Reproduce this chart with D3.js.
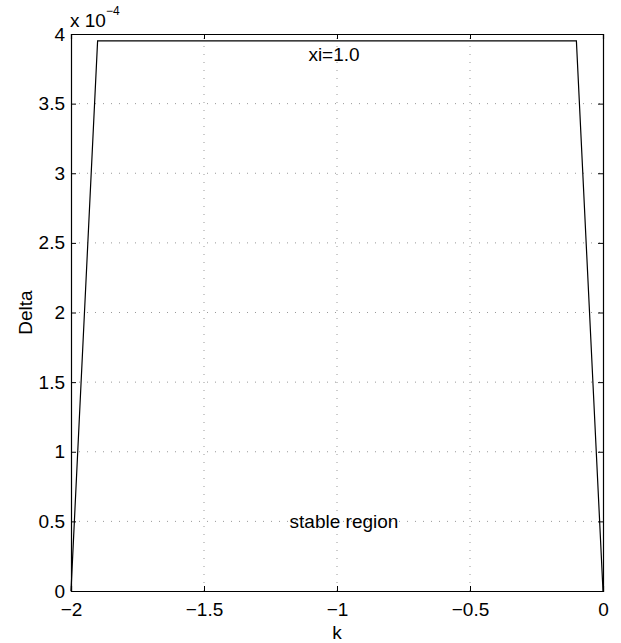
<!DOCTYPE html>
<html>
<head>
<meta charset="utf-8">
<script src="https://cdn.jsdelivr.net/npm/d3@7"></script>
<style>
  html, body { margin: 0; padding: 0; background: #fff; }
  svg { display: block; }
  text { font-family: "Liberation Sans", Arial, Helvetica, sans-serif; fill: #000; }
</style>
</head>
<body>
<svg id="chart" width="621" height="643"></svg>
<script>
// Stability boundary Delta(k) for xi = 1.0 (Delta values in units of 1e-4)
const kValues = [-2.0, -1.9, -0.1, 0.0];
const deltaValues = [0.0, 3.95, 3.95, 0.0];
const xTicks = [-2, -1.5, -1, -0.5, 0];
const yTicks = [0, 0.5, 1, 1.5, 2, 2.5, 3, 3.5, 4];

const svg = d3.select("#chart");
const margin = { left: 71, top: 34, right: 18, bottom: 52 };
const W = 621, H = 643;
const FS = 19;
const x = d3.scaleLinear().domain([-2, 0]).range([margin.left, W - margin.right]);
const y = d3.scaleLinear().domain([0, 4]).range([H - margin.bottom, margin.top]);

const fmt = v => (v < 0 ? "\u2212" : "") + String(Math.abs(v));

// dotted grid
const grid = svg.append("g");
grid.selectAll("line.vx").data(xTicks.slice(1, -1)).join("line")
  .attr("x1", d => x(d)).attr("x2", d => x(d))
  .attr("y1", y(0)).attr("y2", y(4))
  .attr("stroke", "#999").attr("stroke-width", 1).attr("stroke-dasharray", "1,7");
grid.selectAll("line.hy").data(yTicks.slice(1, -1)).join("line")
  .attr("x1", x(-2)).attr("x2", x(0))
  .attr("y1", d => y(d)).attr("y2", d => y(d))
  .attr("stroke", "#999").attr("stroke-width", 1).attr("stroke-dasharray", "1,7");

// axes with inward ticks
const tickLen = 5;
const xAxisB = d3.axisBottom(x).tickValues(xTicks).tickSize(-tickLen).tickPadding(12).tickFormat(fmt);
const xAxisT = d3.axisTop(x).tickValues(xTicks).tickSize(-tickLen).tickFormat("");
const yAxisL = d3.axisLeft(y).tickValues(yTicks).tickSize(-tickLen).tickPadding(6).tickFormat(d => String(d));
const yAxisR = d3.axisRight(y).tickValues(yTicks).tickSize(-tickLen).tickFormat("");

function style(g) {
  g.select(".domain").attr("stroke", "#000").attr("stroke-width", 1.2);
  g.selectAll(".tick line").attr("stroke", "#000");
  g.selectAll(".tick text").attr("font-size", FS).attr("font-family", "Liberation Sans, Arial, sans-serif");
}
svg.append("g").attr("transform", `translate(0,${y(0)})`).call(xAxisB).call(style);
svg.append("g").attr("transform", `translate(0,${y(4)})`).call(xAxisT).call(style);
svg.append("g").attr("transform", `translate(${x(-2)},0)`).call(yAxisL).call(style);
svg.append("g").attr("transform", `translate(${x(0)},0)`).call(yAxisR).call(style);

// exponent label
const ex = svg.append("text").attr("x", x(-2) - 1).attr("y", 27).attr("font-size", FS);
ex.append("tspan").text("x 10");
ex.append("tspan").attr("dy", -12).attr("font-size", 12).text("\u22124");

// data line
const line = d3.line().x((d, i) => x(kValues[i])).y(d => y(d));
svg.append("path").datum(deltaValues)
  .attr("d", line).attr("fill", "none").attr("stroke", "#000").attr("stroke-width", 1.2);

// annotations
svg.append("text").attr("x", x(-1) - 3).attr("y", 61).attr("font-size", FS)
  .attr("text-anchor", "middle").text("xi=1.0");
svg.append("text").attr("x", x(-1) + 7).attr("y", 528).attr("font-size", FS)
  .attr("text-anchor", "middle").text("stable region");

// axis titles
svg.append("text").attr("x", x(-1)).attr("y", 639).attr("font-size", FS)
  .attr("text-anchor", "middle").text("k");
svg.append("text").attr("transform", `translate(32,${(y(0) + y(4)) / 2}) rotate(-90)`)
  .attr("font-size", FS).attr("text-anchor", "middle").text("Delta");
</script>
</body>
</html>
